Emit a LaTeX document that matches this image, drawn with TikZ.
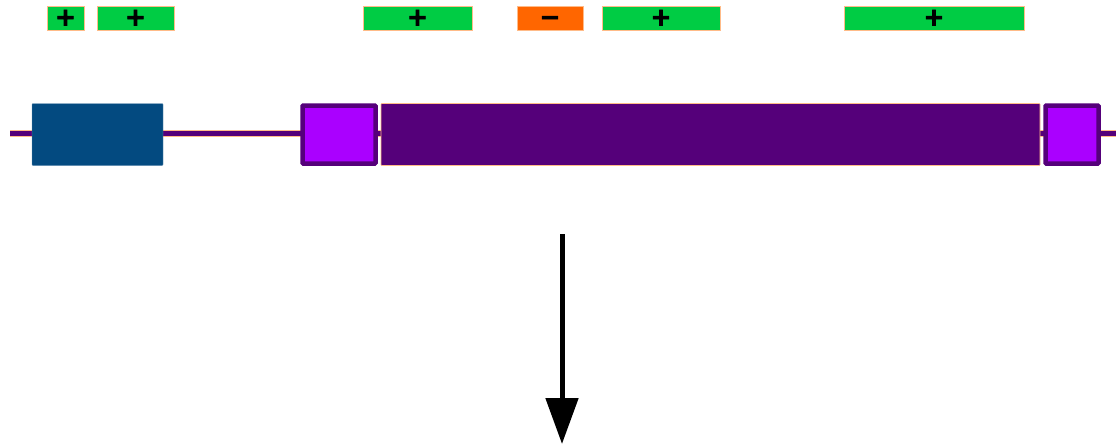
\documentclass[tikz,border=0pt]{standalone}
\usepackage{fontspec}
\setmainfont{DejaVu Sans}
\newfontfamily\hitfont[FakeBold=2.5]{DejaVu Sans Bold}
\usepackage{xcolor}
\usetikzlibrary{arrows.meta,positioning}
\definecolor{hitgreen}{HTML}{00CC44}
\definecolor{hitorange}{HTML}{FF6600}
\definecolor{edgepeach}{HTML}{FFBB88}
\definecolor{utrblue}{HTML}{034A80}
\definecolor{cdsdark}{HTML}{55007A}
\definecolor{cdslight}{HTML}{AA00FF}

\begin{document}
\begin{tikzpicture}[x=1pt, y=-1pt,
  hit/.style={draw=edgepeach, line width=0.8pt, fill=hitgreen, rectangle,
              inner sep=0pt, minimum height=24pt, text height=14pt, text depth=0pt,
              font=\hitfont\fontsize{25}{25}\selectfont},
  neg/.style={hit, fill=hitorange},
  exon/.style={rectangle, inner sep=0pt, minimum height=62pt, rounded corners=0.8pt},
  endexon/.style={exon, draw=cdsdark, line width=4.5pt, fill=cdslight,
                  minimum height=58pt},
  ar/.style={-{Triangle[width=32pt, length=46pt]}, line width=5pt},
]
\useasboundingbox (0,0) rectangle (1116,447);
% strand hits
\node[hit, minimum width=37pt]  (h1) at (65.5,18.5) {+};
\node[hit, minimum width=77pt]  (h2) at (135.5,18.5) {+};
\node[hit, minimum width=109pt] (h3) at (417.5,18.5) {+};
\node[neg, minimum width=66pt]  (h4) at (550,18.5) {−};
\node[hit, minimum width=118pt] (h5) at (661,18.5) {+};
\node[hit, minimum width=180pt] (h6) at (934,18.5) {+};
% gene model
\coordinate (ls) at (10,133);
\coordinate (le) at (1116,133);
\draw[edgepeach, line width=7pt] (ls) -- (le);
\draw[cdsdark, line width=5pt] (ls) -- (le);
\node[exon, fill=utrblue, draw=utrblue!60, line width=0.4pt, minimum width=131pt] (utr) at (97.5,134.5) {};
\node[endexon, minimum width=73pt] (c1) at (339,134.5) {};
\node[exon, fill=cdsdark, draw=edgepeach, line width=0.6pt, minimum width=659pt] (c2) at (710.5,134.5) {};
\node[endexon, minimum width=53pt] (c3) at (1072,134.5) {};
% arrow
\coordinate (a0) at (562,234);
\coordinate (a1) at (562,444);
\draw[ar] (a0) -- (a1);
\end{tikzpicture}
\end{document}
